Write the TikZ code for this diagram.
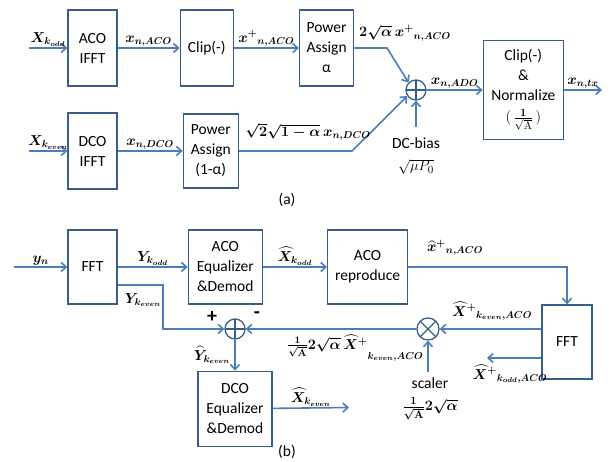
\documentclass[tikz,border=0pt]{standalone}
\usepackage[no-math]{fontspec}
\setmainfont{Carlito}
\usepackage{amsmath}
\usetikzlibrary{positioning, arrows.meta}
\definecolor{boxblue}{RGB}{56, 93, 138}
\definecolor{lineblue}{RGB}{74, 126, 187}

\begin{document}
\begin{tikzpicture}[x=1pt, y=-1pt,
  every node/.style={font=\fontsize{15.5}{20}\selectfont},
  blk/.style={
    rectangle, draw=boxblue, line width=1.3pt,
    align=center, inner sep=2pt
  },
  sumnode/.style={
    circle, draw=boxblue, line width=1.3pt,
    minimum size=20pt, inner sep=0pt,
    path picture={\draw[boxblue, line width=1.3pt]
      (path picture bounding box.north) -- (path picture bounding box.south)
      (path picture bounding box.west) -- (path picture bounding box.east);}
  },
  mulnode/.style={
    circle, draw=boxblue, line width=1.3pt,
    minimum size=22pt, inner sep=0pt,
    path picture={\draw[boxblue, line width=1.3pt]
      (path picture bounding box.north west) -- (path picture bounding box.south east)
      (path picture bounding box.north east) -- (path picture bounding box.south west);}
  },
  arr/.style={draw=lineblue, line width=1.6pt, -{Straight Barb[length=5pt, width=9pt]}},
  lbl/.style={font=\fontsize{14}{16}\selectfont\boldmath, inner sep=1pt},
  sgn/.style={font=\fontsize{20}{20}\selectfont\bfseries, inner sep=0pt}
]
\useasboundingbox (0,0) rectangle (610,461);

% Part (a)
\node[blk, minimum width=49pt, minimum height=76pt] (acoifft) at (92.5,48) {ACO\\IFFT};
\node[blk, minimum width=53pt, minimum height=76pt, right=62pt of acoifft] (clipa) {Clip(-)};
\node[blk, minimum width=54pt, minimum height=76pt, right=65pt of clipa] (pwra) {Power\\Assign\\α};
\node[blk, minimum width=49pt, minimum height=76pt] (dcoifft) at (92.5,151) {DCO\\IFFT};
\node[blk, minimum width=55pt, minimum height=74pt, right=65pt of dcoifft] (pwrb) {Power\\Assign\\(1-α)};
\node[sumnode] (adda) at (416,90) {};
\node[blk, minimum width=80pt, minimum height=99pt, right=56pt of adda]
  (clipnorm) {Clip(-)\\\&\\Normalize\\[1pt]$(\,\frac{\mathbf{1}}{\sqrt{\mathrm{A}}}\,)$};

\coordinate (kodd) at (29,48);
\coordinate (keven) at (29,151);
\coordinate (bend1) at (387,48);
\coordinate (bend2) at (352,151);
\coordinate (dcin) at (416,127);
\coordinate (txout) at (602,90);

\draw[arr] (kodd) -- node[lbl, above] (lkodd) {$X_{k_{odd}}$} (acoifft);
\draw[arr] (acoifft) -- node[lbl, above] (lxaco) {$x_{n,ACO}$} (clipa);
\draw[arr] (clipa) -- node[lbl, above] (lxpaco) {$x^{+}{}_{n,ACO}$} (pwra);
\draw[arr] (pwra) -- (bend1) -- (adda.135);
\node[lbl] (lpwra) at (405,33) {$2\sqrt{\alpha}\,x^{+}{}_{n,ACO}$};
\draw[arr] (keven) -- node[lbl, above] (lkeven) {$X_{k_{even}}$} (dcoifft);
\draw[arr] (dcoifft) -- node[lbl, above] (lxdco) {$x_{n,DCO}$} (pwrb);
\draw[arr] (pwrb) -- (bend2) -- (adda.215);
\node[lbl] (lpwrb) at (308,132) {$\sqrt{2}\sqrt{1-\alpha}\,x_{n,DCO}$};
\draw[arr] (dcin) -- (adda);
\node[align=center] (ldc) at (416,156) {DC-bias\\[2pt]$\sqrt{\mu P_0}$};
\draw[arr] (adda) -- node[lbl, above] (lxado) {$x_{n,ADO}$} (clipnorm);
\draw[arr] (clipnorm) -- node[lbl, above] (lxtx) {$x_{n,tx}$} (txout);
\node (capa) at (287,200) {(a)};

% Part (b)
\node[blk, minimum width=49pt, minimum height=74pt] (fftl) at (92.5,267) {FFT};
\node[blk, minimum width=74pt, minimum height=74pt, right=70pt of fftl] (acoeq) {ACO\\Equalizer\\\&Demod};
\node[blk, minimum width=80pt, minimum height=74pt, right=64pt of acoeq] (acorep) {ACO\\reproduce};
\node[blk, minimum width=50pt, minimum height=74pt] (fftr) at (567,342) {FFT};
\node[mulnode] (mult) at (428,329) {};
\node[sumnode] (addb) at (235,329) {};
\node[blk, minimum width=74pt, minimum height=75pt, below=31pt of addb] (dcoeq) {DCO\\Equalizer\\\&Demod};

\coordinate (yin) at (14,267);
\coordinate (kevb) at (163,285);
\coordinate (kodo) at (487,358);
\coordinate (sclin) at (428,372);
\coordinate (rxout) at (349,407.5);

\draw[arr] (yin) -- node[lbl, above] (lyn) {$y_n$} (fftl);
\draw[arr] (fftl) -- node[lbl, above] (lykodd) {$Y_{k_{odd}}$} (acoeq);
\draw[arr] (acoeq) -- node[lbl, above] (lxhkodd) {$\widehat{X}_{k_{odd}}$} (acorep);
\draw[arr] (acorep) -| (fftr);
\node[lbl] (lxhaco) at (455,248) {$\widehat{x}^{+}{}_{n,ACO}$};
\draw[arr] (fftr.west |- mult) -- (mult);
\node[lbl] (lxkev) at (492,311) {$\widehat{X}^{+}{}_{k_{even},ACO}$};
\draw[arr] (fftr.west |- kodo) -- (kodo);
\node[lbl] (lxkod) at (510,374) {$\widehat{X}^{+}{}_{k_{odd},ACO}$};
\draw[arr] (sclin) -- (mult);
\node[align=center] (lscl) at (430,399) {scaler\\[2pt]{\boldmath$\frac{1}{\sqrt{\mathrm{A}}}2\sqrt{\alpha}$}};
\draw[arr] (mult) -- (addb);
\node[lbl] (lprod) at (355,348) {$\frac{1}{\sqrt{\mathrm{A}}}2\sqrt{\alpha}\,\widehat{X}^{+}\raisebox{-10pt}{$\scriptstyle k_{even},ACO$}$};
\node[sgn] (lplus) at (212,317) {+};
\node[sgn] (lminus) at (257,315) {-};
\draw[arr] (fftl.east |- kevb) -- (kevb) |- (addb);
\node[lbl] (lykev) at (143,300) {$Y_{k_{even}}$};
\draw[arr] (addb) -- (dcoeq);
\node[lbl] (lyhkev) at (212,355) {$\widehat{Y}_{k_{even}}$};
\draw[arr] (dcoeq) -- node[lbl, above] (lxhkev) {$\widehat{X}_{k_{even}}$} (rxout);
\node (capb) at (287,452) {(b)};

\end{tikzpicture}
\end{document}
